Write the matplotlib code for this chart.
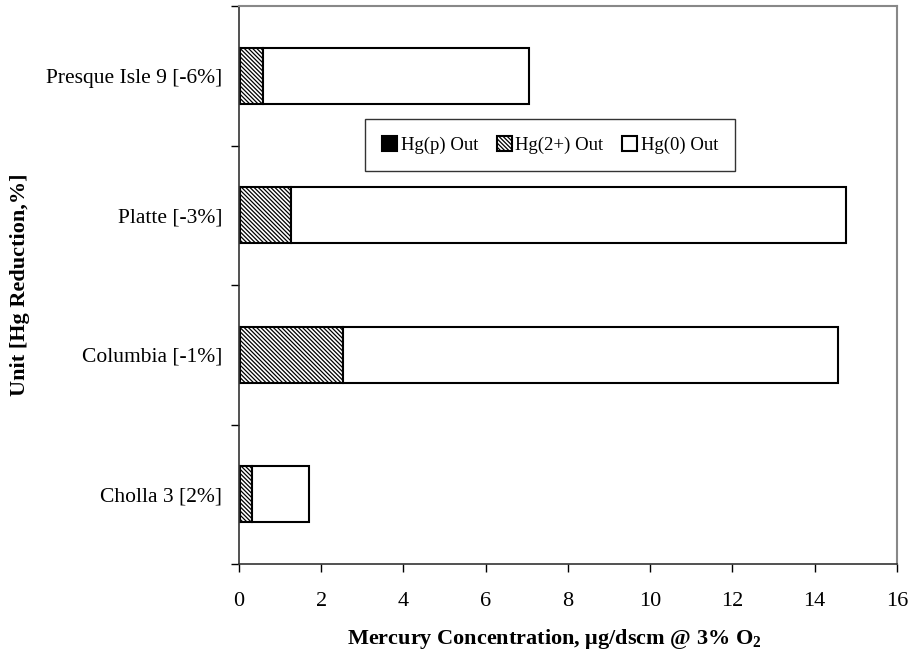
import numpy as np
import matplotlib.pyplot as plt
from matplotlib.ticker import FixedLocator

plt.rcParams['font.family'] = ['Liberation Serif', 'DejaVu Serif']
plt.rcParams['mathtext.fontset'] = 'custom'
plt.rcParams['mathtext.rm'] = 'Liberation Serif'
plt.rcParams['mathtext.bf'] = 'Liberation Serif:bold'
plt.rcParams['hatch.linewidth'] = 0.9

units = ['Cholla 3 [2%]', 'Columbia [-1%]', 'Platte [-3%]', 'Presque Isle 9 [-6%]']
hg_p = [0.02, 0.02, 0.02, 0.02]
hg_2 = [0.30, 2.50, 1.24, 0.56]
hg_0 = [1.38, 12.05, 13.49, 6.48]

fig = plt.figure(figsize=(9.11, 6.61), dpi=100)
ax = fig.add_axes([0.2623, 0.1467, 0.7223, 0.8442])

y = np.arange(len(units))
h = 0.4
left = np.zeros(len(units))
ax.barh(y, hg_p, h, left=left, color='black', edgecolor='black', lw=1.5, label='Hg(p) Out')
left += hg_p
ax.barh(y, hg_2, h, left=left, color='white', edgecolor='black', hatch='\\' * 8, lw=1.5, label='Hg(2+) Out')
left += hg_2
ax.barh(y, hg_0, h, left=left, color='white', edgecolor='black', lw=1.5, label='Hg(0) Out')

ax.set_xlim(0, 16)
ax.set_ylim(-0.5, 3.5)
ax.set_xticks(np.arange(0, 17, 2))
ax.set_yticks(y)
ax.set_yticklabels(units)
ax.yaxis.set_minor_locator(FixedLocator(np.arange(-0.5, 3.6, 1)))
ax.tick_params(axis='y', which='major', length=0, labelsize=15.5, pad=12)
ax.tick_params(axis='y', which='minor', length=6, direction='out', width=1)
ax.tick_params(axis='x', length=6, direction='out', width=1, labelsize=16, pad=14)

for s in ['top', 'right']:
    ax.spines[s].set_color('#888888')
    ax.spines[s].set_linewidth(1.5)
for s in ['left', 'bottom']:
    ax.spines[s].set_color('#333333')
    ax.spines[s].set_linewidth(1.2)

ax.set_xlabel('Mercury Concentration, \u03bcg/dscm @ 3% O$_\\mathbf{2}$',
              fontsize=16, fontweight='bold')
ax.xaxis.set_label_coords(0.479, -0.112)
ax.set_ylabel('Unit [Hg Reduction,%]', fontsize=16, fontweight='bold')
ax.yaxis.set_label_coords(-0.318, 0.5)

leg = ax.legend(loc='upper left', bbox_to_anchor=(0.1915, 0.797), ncol=3, fontsize=13.5,
                frameon=True, fancybox=False, edgecolor='black', handlelength=0.8,
                handleheight=0.8, handletextpad=0.2, columnspacing=1.0,
                borderpad=0.9, borderaxespad=0)
leg.get_frame().set_linewidth(1.0)

fig.savefig('out.png', dpi=100)
